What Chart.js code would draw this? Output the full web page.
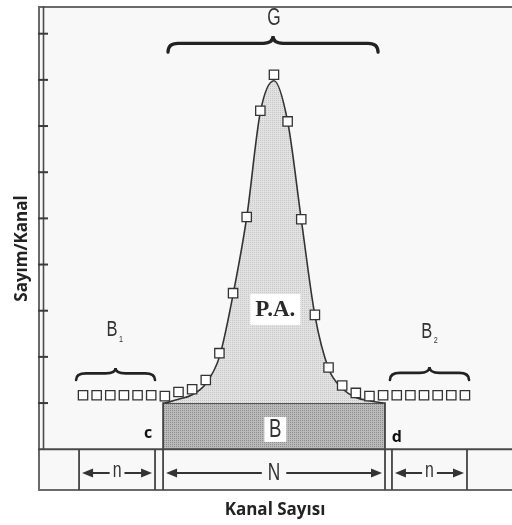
<!DOCTYPE html>
<html><head><meta charset="utf-8">
<script src="https://cdn.jsdelivr.net/npm/chart.js@4/dist/chart.umd.min.js"></script>
<style>html,body{margin:0;padding:0;background:#fff}canvas{display:block}</style>
</head><body>
<canvas id="c" width="512" height="525"></canvas>
<script>
// ---- data (channel index on x, counts per channel on y) ----
const channels = [0,1,2,3,4,5,6,7,8,9,10,11,12,13,14,15,16,17,18,19,20,21,22,23,24,25,26,27,28];
const counts   = [1.17,1.17,1.17,1.17,1.17,1.17,1.15,1.24,1.30,1.50,2.08,3.38,5.03,7.33,8.11,7.10,4.98,2.91,1.77,1.38,1.22,1.15,1.17,1.17,1.17,1.17,1.17,1.17,1.17];
const curveChannels = [6,7,8,9,10,11,12,13,14,15,16,17,18,19,20,21,22];
const curveCounts   = [1.00,1.08,1.18,1.42,2.00,3.35,5.02,7.30,7.98,7.10,4.98,2.90,1.75,1.32,1.12,1.05,1.00];
const yTickValues = [1,2,3,4,5,6,7,8,9];
const backgroundLevel = 1;          // height of the B block
const b1Range   = [-0.29, 5.28];    // n channels left
const peakRange = [5.87, 22.14];    // N channels (peak region, c..d)
const b2Range   = [22.65, 28.15];   // n channels right
const stripLabels = ['n', 'N', 'n'];
const regionLabels = ['G', 'B', 'P.A.', 'B', 'B', 'c', 'd'];

// ---- annotation placement (data units) ----
const place = {
  G:  {x: 14.0, y: 9.33, brace: [6.23, 21.63, 8.95, 8.6]},
  B1: {x: 2.13, y: 2.58, brace: [-0.51, 5.28, 1.76, 1.50]},
  B2: {x: 25.2, y: 2.54, brace: [22.5, 28.3, 1.78, 1.50]},
  PA: {x: 14.1, y: 3.04},
  B:  {x: 14.1, y: 0.44},
  c:  {x: 4.77, y: 0.35},
  d:  {x: 23.0, y: 0.26},
  arrowY: -0.515
};

const SANS = '"Liberation Sans", Arial, sans-serif';

function makePattern(base, dot) {
  const c = document.createElement('canvas');
  c.width = 2; c.height = 2;
  const x = c.getContext('2d');
  x.fillStyle = base; x.fillRect(0, 0, 2, 2);
  x.fillStyle = dot; x.fillRect(0, 0, 1, 1);
  return x.createPattern(c, 'repeat');
}
const lightFill = makePattern('#e2e2e2', '#c6c6c6');
const darkFill  = makePattern('#bababa', '#8e8e8e');

function narrowText(ctx, txt, x, y, size, sx) {
  ctx.save();
  ctx.translate(x, y);
  ctx.scale(sx || 0.8, 1);
  ctx.font = size + 'px ' + SANS;
  ctx.fillText(txt, 0, 0);
  ctx.restore();
}

function brace(ctx, x1, x2, yc, ye, lw) {
  const yh = yc + (ye - yc) * 0.45;
  const xm = (x1 + x2) / 2;
  const r = Math.min(10, (x2 - x1) / 6);
  ctx.save();
  ctx.strokeStyle = '#222'; ctx.lineWidth = lw; ctx.lineCap = 'round';
  ctx.beginPath();
  ctx.moveTo(x1, ye);
  ctx.quadraticCurveTo(x1, yh, x1 + r, yh);
  ctx.lineTo(xm - r, yh);
  ctx.quadraticCurveTo(xm, yh, xm, yc);
  ctx.quadraticCurveTo(xm, yh, xm + r, yh);
  ctx.lineTo(x2 - r, yh);
  ctx.quadraticCurveTo(x2, yh, x2, ye);
  ctx.stroke();
  ctx.restore();
}

function arrowHead(ctx, tipX, y, dir) {
  ctx.beginPath();
  ctx.moveTo(tipX, y);
  ctx.lineTo(tipX + dir * 11, y - 4.5);
  ctx.lineTo(tipX + dir * 11, y + 4.5);
  ctx.closePath();
  ctx.fill();
}

const framePlugin = {
  id: 'frame',
  beforeDatasetsDraw(chart) {
    const {ctx, chartArea: a} = chart;
    ctx.save();
    ctx.fillStyle = '#f8f8f8';
    ctx.fillRect(a.left, a.top, a.right - a.left, a.bottom - a.top);
    ctx.restore();
  },
  afterDatasetsDraw(chart) {
    const {ctx, chartArea: a} = chart;
    const sx = v => chart.scales.x.getPixelForValue(v);
    const sy = v => chart.scales.y.getPixelForValue(v);
    const y0 = sy(0);
    ctx.save();
    // frame
    ctx.strokeStyle = '#6a6a6a'; ctx.lineWidth = 2;
    ctx.beginPath();
    ctx.moveTo(a.left + 1, a.bottom - 1); ctx.lineTo(a.left + 1, a.top + 1); ctx.lineTo(a.right, a.top + 1);
    ctx.moveTo(a.left, a.bottom - 1); ctx.lineTo(a.right, a.bottom - 1);
    ctx.stroke();
    ctx.strokeStyle = '#4a4a4a';
    ctx.beginPath(); ctx.moveTo(a.left, y0); ctx.lineTo(a.right, y0); ctx.stroke();
    ctx.lineWidth = 1.6;
    ctx.beginPath(); ctx.moveTo(a.left + 5.5, a.top); ctx.lineTo(a.left + 5.5, y0); ctx.stroke();
    // y ticks
    ctx.lineWidth = 2; ctx.strokeStyle = '#3a3a3a';
    yTickValues.forEach(v => {
      ctx.beginPath(); ctx.moveTo(a.left, sy(v)); ctx.lineTo(a.left + 10, sy(v)); ctx.stroke();
    });
    // strip dividers
    ctx.strokeStyle = '#444'; ctx.lineWidth = 1.8;
    [b1Range, peakRange, b2Range].forEach(r => r.forEach(v => {
      ctx.beginPath(); ctx.moveTo(sx(v), y0); ctx.lineTo(sx(v), a.bottom - 1); ctx.stroke();
    }));
    // arrows with labels
    const ay = sy(place.arrowY);
    ctx.fillStyle = '#333'; ctx.strokeStyle = '#333'; ctx.lineWidth = 2.2;
    ctx.textAlign = 'center'; ctx.textBaseline = 'middle';
    [b1Range, peakRange, b2Range].forEach((r, i) => {
      const xl = sx(r[0]) + 3, xr = sx(r[1]) - 3, xm = (xl + xr) / 2;
      const big = stripLabels[i] === 'N';
      const size = big ? 24 : 22;
      ctx.font = size + 'px ' + SANS;
      const tw = ctx.measureText(stripLabels[i]).width * 0.72;
      const g = big ? 6 : 3;
      ctx.beginPath();
      ctx.moveTo(xl + 8, ay); ctx.lineTo(xm - tw / 2 - g, ay);
      ctx.moveTo(xm + tw / 2 + g, ay); ctx.lineTo(xr - 8, ay);
      ctx.stroke();
      arrowHead(ctx, xl, ay, 1);
      arrowHead(ctx, xr, ay, -1);
      narrowText(ctx, stripLabels[i], xm, ay - (big ? 0 : 2), size, 0.72);
    });
    // braces
    [place.G, place.B1, place.B2].forEach((p, i) => {
      const b = p.brace;
      brace(ctx, sx(b[0]), sx(b[1]), sy(b[2]), sy(b[3]), i === 0 ? 3.2 : 2.6);
    });
    // G
    ctx.fillStyle = '#333';
    narrowText(ctx, regionLabels[0], sx(place.G.x), sy(place.G.y), 23, 0.75);
    // B1, B2
    [[place.B1, '1'], [place.B2, '2']].forEach(([p, s]) => {
      narrowText(ctx, regionLabels[1], sx(p.x), sy(p.y), 22, 0.75);
      narrowText(ctx, s, sx(p.x) + 9, sy(p.y) + 9, 9, 0.8);
    });
    // P.A.
    ctx.fillStyle = '#ffffff';
    ctx.fillRect(sx(place.PA.x) - 25, sy(place.PA.y) - 15, 50, 31);
    ctx.fillStyle = '#2a2a2a';
    ctx.font = '600 23px "Liberation Serif", "DejaVu Serif", serif';
    ctx.fillText(regionLabels[2], sx(place.PA.x), sy(place.PA.y) + 1);
    // B in block
    ctx.fillStyle = '#ffffff';
    ctx.fillRect(sx(place.B.x) - 11, sy(place.B.y) - 12, 22, 25);
    ctx.fillStyle = '#333';
    narrowText(ctx, regionLabels[3], sx(place.B.x), sy(place.B.y) + 1, 26, 0.72);
    // c, d
    ctx.fillStyle = '#111';
    ctx.font = 'bold 16px "Open Sans", "DejaVu Sans", sans-serif';
    ctx.fillText(regionLabels[5], sx(place.c.x), sy(place.c.y));
    ctx.fillText(regionLabels[6], sx(place.d.x), sy(place.d.y));
    ctx.restore();
  }
};

new Chart(document.getElementById('c'), {
  type: 'line',
  data: {
    datasets: [
      {
        label: 'Sayım',
        data: channels.map((c, i) => ({x: c, y: counts[i]})),
        showLine: false,
        pointStyle: 'rect',
        pointRadius: 6.6,
        pointBackgroundColor: '#ffffff',
        pointBorderColor: '#333',
        pointBorderWidth: 1.3,
        order: 0
      },
      {
        label: 'Pik',
        data: curveChannels.map((c, i) => ({x: c, y: curveCounts[i]})),
        borderColor: '#333',
        borderWidth: 1.6,
        pointRadius: 0,
        cubicInterpolationMode: 'monotone',
        fill: {value: backgroundLevel},
        backgroundColor: lightFill,
        order: 1
      },
      {
        label: 'B',
        data: [
          {x: peakRange[0], y: 0}, {x: peakRange[0], y: backgroundLevel},
          {x: peakRange[1], y: backgroundLevel}, {x: peakRange[1], y: 0}
        ],
        borderColor: '#333',
        borderWidth: 1.6,
        pointRadius: 0,
        tension: 0,
        fill: 'origin',
        backgroundColor: darkFill,
        order: 2
      }
    ]
  },
  options: {
    responsive: false,
    devicePixelRatio: 1,
    animation: false,
    events: [],
    layout: {autoPadding: false, padding: {top: 6, right: 0, bottom: 0, left: 0}},
    plugins: {legend: {display: false}, tooltip: {enabled: false}},
    scales: {
      x: {
        type: 'linear', min: -3.3, max: 31.45,
        ticks: {display: false},
        grid: {display: false, drawTicks: false},
        border: {display: false},
        title: {display: true, text: 'Kanal Sayısı', color: '#222',
          font: {family: '"Open Sans", sans-serif', weight: 'bold', size: 17},
          padding: {top: 8.8, bottom: 4.8}}
      },
      y: {
        type: 'linear', min: -0.905, max: 9.6,
        ticks: {display: false},
        grid: {display: false, drawTicks: false},
        border: {display: false},
        title: {display: true, text: 'Sayım/Kanal', color: '#222',
          font: {family: '"Open Sans", sans-serif', weight: 'bold', size: 17},
          padding: {top: 11.8, bottom: 5.8}}
      }
    }
  },
  plugins: [framePlugin]
});
</script>
</body></html>
